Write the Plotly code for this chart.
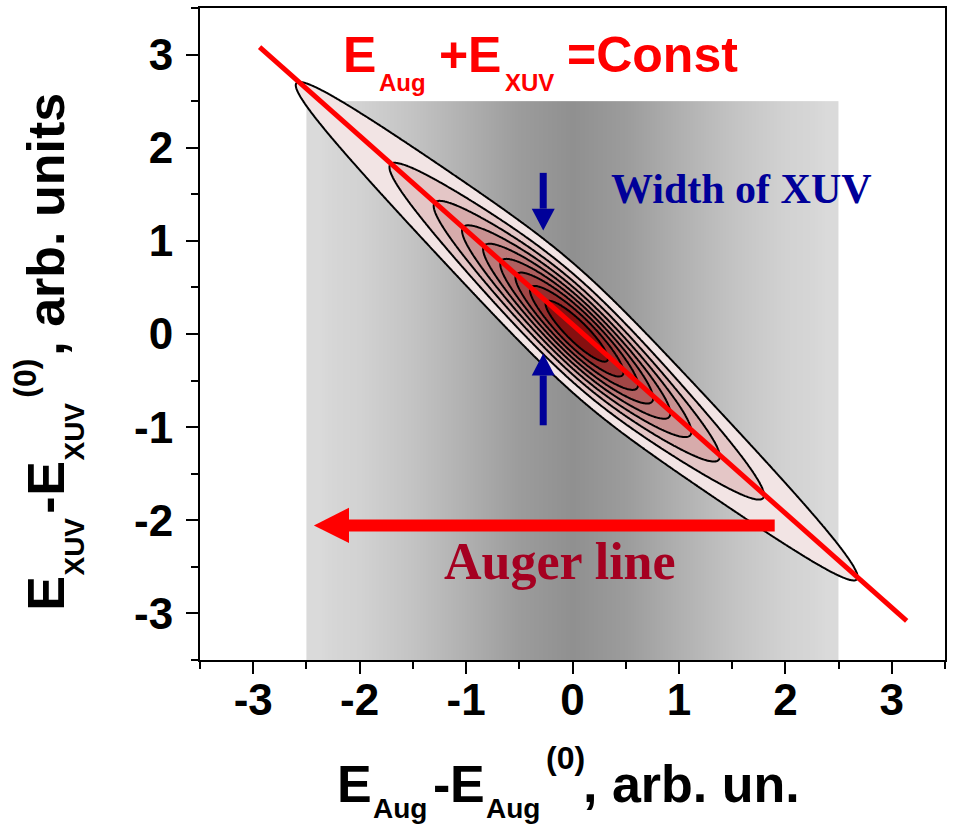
import numpy as np
import plotly.graph_objects as go

# ---------------------------------------------------------------- data
TICK_VALUES = [-3, -2, -1, 0, 1, 2, 3]
TICK_LABELS = ["-3", "-2", "-1", "0", "1", "2", "3"]

# grey band behind the map: column edges and grey level of each column
BAND_X_EDGES = [-2.5, -2.25, -1.75, -1.25, -0.75, -0.25, 0.25, 0.75, 1.25, 1.75, 2.25, 2.5]
BAND_Y_EDGES = [-3.5, -0.5, 2.5]
BAND_GREY = [218, 210, 195, 176, 156, 144, 156, 176, 195, 210, 218]

# correlated Auger / XUV distribution
AUG_CENTER = 0.04        # centre of the Auger line
SUM_CENTER = 0.07        # E_Aug + E_XUV on the constant-energy line
AUG_HALF_WIDTH = 0.88    # Lorentzian half width of the Auger line
XUV_SIGMA = 0.325        # Gaussian width of the XUV spectrum
CONTOUR_LEVELS = [0.1, 0.2, 0.3, 0.4, 0.5, 0.6, 0.7, 0.8, 0.9]
BAND_COLORS = ["rgba(255,255,255,0)", "#f2e4e4", "#e4c6c6", "#d7abab", "#c99191",
               "#bc7878", "#af5f5f", "#a24646", "#952d2d", "#861010"]

# line E_Aug + E_XUV = Const
CONST_LINE_X = [-2.94, 3.14]
CONST_LINE_Y = [3.08, -3.08]

# arrows
AUGER_ARROW = dict(y=-2.055, tail=1.9, tip=-2.43, head_len=0.33, head_half=0.19)
XUV_ARROW_X = -0.275
XUV_ARROWS = [dict(tail=1.73, tip=1.11), dict(tail=-0.98, tip=-0.21)]
XUV_HEAD_LEN = 0.236
XUV_HEAD_HALF = 0.108

# ---------------------------------------------------------------- layout geometry
W, H = 953, 826
ML, MR, MT, MB = 200, 6, 8, 166
PW, PH = W - ML - MR, H - MT - MB

SANS = "Liberation Sans, Arial, sans-serif"
SERIF = "Liberation Serif, Times New Roman, serif"
RED = "#ff0000"
BLUE = "#000099"
CRIMSON = "#a50021"


def px_x(px):
    return (px - ML) / PW


def px_y(py):
    return (H - MB - py) / PH


def piece(text, left, baseline, size, color, family=SANS, weight="bold"):
    """Horizontal text run whose left edge and baseline are given in pixels."""
    return dict(text=text, xref="paper", yref="paper",
                x=px_x(left), y=px_y(baseline - 0.35 * size),
                xanchor="left", yanchor="middle", showarrow=False, borderpad=0,
                font=dict(family=family, size=size, color=color, weight=weight))


def vpiece(text, baseline_x, start_y, size, color="black"):
    """Text run rotated to read upwards, starting at start_y (pixels)."""
    return dict(text=text, xref="paper", yref="paper", textangle=-90,
                x=px_x(baseline_x - 0.35 * size), y=px_y(start_y),
                xanchor="center", yanchor="bottom", showarrow=False, borderpad=0,
                font=dict(family=SANS, size=size, color=color, weight="bold"))


fig = go.Figure()

# grey gradient band
fig.add_trace(go.Heatmap(
    x=BAND_X_EDGES, y=BAND_Y_EDGES, z=[BAND_GREY, BAND_GREY],
    zmin=0, zmax=255, zsmooth="best",
    colorscale=[[0, "rgb(0,0,0)"], [1, "rgb(255,255,255)"]],
    showscale=False, hoverinfo="skip"))

# red "Auger line" arrow (shaft + head)
a = AUGER_ARROW
head_base = a["tip"] + a["head_len"]
fig.add_trace(go.Scatter(
    x=[a["tail"], head_base], y=[a["y"], a["y"]], mode="lines",
    line=dict(color=RED, width=12), hoverinfo="skip", showlegend=False))
fig.add_trace(go.Scatter(
    x=[a["tip"], head_base, head_base, a["tip"]],
    y=[a["y"], a["y"] + a["head_half"], a["y"] - a["head_half"], a["y"]],
    mode="lines", fill="toself", fillcolor=RED, line=dict(width=0, color=RED),
    hoverinfo="skip", showlegend=False))

# correlated distribution map
gx = np.round(np.arange(-3.2, 3.4001, 0.0125), 4)
gy = np.round(np.arange(-3.4, 3.3001, 0.0125), 4)
X, Y = np.meshgrid(gx, gy)
auger = 1.0 / (1.0 + ((X - AUG_CENTER) / AUG_HALF_WIDTH) ** 2)
xuv = np.exp(-((X + Y - SUM_CENTER) ** 2) / (2 * XUV_SIGMA ** 2))
Z = np.round(auger * xuv, 4)

n = len(CONTOUR_LEVELS)
fig.add_trace(go.Contour(
    x=gx, y=gy, z=Z, autocontour=False,
    contours=dict(start=CONTOUR_LEVELS[0], end=CONTOUR_LEVELS[-1],
                  size=round(CONTOUR_LEVELS[1] - CONTOUR_LEVELS[0], 6),
                  coloring="fill", showlines=True),
    colorscale=[[k / n, c] for k, c in enumerate(BAND_COLORS)],
    line=dict(color="black", width=2, smoothing=1),
    showscale=False, hoverinfo="skip"))

# constant total energy line
fig.add_trace(go.Scatter(
    x=CONST_LINE_X, y=CONST_LINE_Y, mode="lines",
    line=dict(color=RED, width=5), hoverinfo="skip", showlegend=False))

# blue arrows marking the XUV width
shapes = []
for arr in XUV_ARROWS:
    d = 1 if arr["tip"] > arr["tail"] else -1
    base = arr["tip"] - d * XUV_HEAD_LEN
    shapes.append(dict(type="line", xref="x", yref="y",
                       x0=XUV_ARROW_X, x1=XUV_ARROW_X, y0=arr["tail"], y1=base,
                       line=dict(color=BLUE, width=7)))
    shapes.append(dict(type="path", xref="x", yref="y", fillcolor=BLUE,
                       line=dict(width=0),
                       path=(f"M{XUV_ARROW_X},{arr['tip']} "
                             f"L{XUV_ARROW_X - XUV_HEAD_HALF},{base} "
                             f"L{XUV_ARROW_X + XUV_HEAD_HALF},{base} Z")))

annotations = [
    # E_Aug + E_XUV = Const
    piece("E", 342, 72.7, 50, RED),
    piece("Aug", 378, 90.7, 24, RED),
    piece("+", 439, 72.7, 50, RED),
    piece("E", 468, 72.7, 50, RED),
    piece("XUV", 505, 90.7, 24, RED),
    piece("=Const", 567, 72.7, 50, RED),
    # labels inside the plot
    piece("Width of XUV", 611, 204, 42, BLUE, family=SERIF),
    piece("Auger line", 444, 580, 52, CRIMSON, family=SERIF),
    # x axis title
    piece("E", 336, 802, 52, "black"),
    piece("Aug", 372, 818, 28, "black"),
    piece("-", 433, 802, 52, "black"),
    piece("E", 449.5, 802, 52, "black"),
    piece("Aug", 486, 818, 28, "black"),
    piece("(0)", 546, 769, 32, "black"),
    piece(", arb. un.", 583, 802, 52, "black"),
    # y axis title
    vpiece("E", 63, 612, 52),
    vpiece("XUV", 83, 577, 28),
    vpiece("-", 63, 515, 52),
    vpiece("E", 63, 497, 52),
    vpiece("XUV", 83, 462, 28),
    vpiece("(0)", 35, 399, 32),
    vpiece(", arb. units", 63, 357, 52),
]

axis_common = dict(
    range=[-3.5, 3.5], tickmode="array", tickvals=TICK_VALUES, ticktext=TICK_LABELS,
    ticks="outside", ticklen=12, tickwidth=2, tickcolor="black",
    minor=dict(dtick=0.5, ticks="outside", ticklen=7, tickwidth=2, tickcolor="black"),
    showline=True, linewidth=2, linecolor="black", mirror=True,
    showgrid=False, zeroline=False,
    tickfont=dict(family=SANS, size=44, color="black", weight="bold"),
)

fig.update_layout(
    width=W, height=H, autosize=False,
    margin=dict(l=ML, r=MR, t=MT, b=MB, pad=0),
    paper_bgcolor="white", plot_bgcolor="white",
    showlegend=False,
    xaxis=dict(**axis_common, ticklabelstandoff=-12),
    yaxis=dict(**axis_common, ticklabelstandoff=4),
    shapes=shapes, annotations=annotations,
)

fig.write_html("out.html")
